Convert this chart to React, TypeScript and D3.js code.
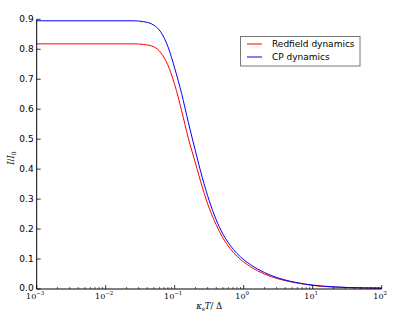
import React from 'react'
import * as d3 from 'd3'

// x positions (kappa_s T / Delta), shared by both curves
const xValues = [
  0.001, 0.0251, 0.0355, 0.0501, 0.0631, 0.0794, 0.1, 0.126, 0.158, 0.2, 0.251,
  0.316, 0.398, 0.501, 0.631, 0.794, 1, 1.26, 1.58, 2.51, 3.98, 6.31, 10, 17.8, 31.6, 100,
]

// I / I_0
const redfield = [
  0.818, 0.818, 0.816, 0.808, 0.788, 0.748, 0.682, 0.595, 0.502, 0.42, 0.34,
  0.27, 0.215, 0.17, 0.136, 0.11, 0.09, 0.074, 0.061, 0.041, 0.028, 0.019, 0.012, 0.007, 0.005, 0.003,
]
const cpDynamics = [
  0.895, 0.895, 0.892, 0.88, 0.857, 0.81, 0.737, 0.652, 0.555, 0.46, 0.372,
  0.295, 0.232, 0.183, 0.147, 0.119, 0.098, 0.081, 0.067, 0.045, 0.03, 0.02, 0.013, 0.008, 0.005, 0.003,
]

const seriesNames = ['Redfield dynamics', 'CP dynamics']
const seriesColors = ['#ff0000', '#0000ff']

const yTicks = [0, 0.1, 0.2, 0.3, 0.4, 0.5, 0.6, 0.7, 0.8, 0.9]
const xMajorExps = [-3, -2, -1, 0, 1, 2]

const W = 415
const H = 322
const margin = { left: 36.7, right: 33.3, top: 19.3, bottom: 33 }

const App = () => {
  const x = d3.scaleLog().domain([1e-3, 1e2]).range([margin.left, W - margin.right])
  const y = d3.scaleLinear().domain([0, 0.9]).range([H - margin.bottom, margin.top])

  const line = d3.line<number>()
    .x((_, i) => x(xValues[i]))
    .y((d) => y(d))
    .curve(d3.curveMonotoneX)

  const series = [redfield, cpDynamics]

  // minor log ticks 2..9 in every decade
  const minor: number[] = []
  for (let e = -3; e < 2; e++) {
    for (let k = 2; k <= 9; k++) minor.push(k * Math.pow(10, e))
  }

  const x0 = margin.left
  const x1 = W - margin.right
  const yb = H - margin.bottom
  const yt = margin.top
  const sans = 'DejaVu Sans, sans-serif'
  const serif = 'DejaVu Serif, serif'

  return (
    <div style={{ position: 'absolute', left: 0, top: 0 }}>
      <svg width={W} height={H} style={{ display: 'block', background: '#fff' }}>
        {/* curves */}
        {series.map((s, i) => (
          <path key={i} d={line(s) || ''} fill="none" stroke={seriesColors[i]} strokeWidth={1} />
        ))}

        {/* spines */}
        <line x1={x0} x2={x0} y1={yt} y2={yb} stroke="#000" strokeWidth={1} />
        <line x1={x0} x2={x1} y1={yb} y2={yb} stroke="#000" strokeWidth={1} />

        {/* y ticks */}
        {yTicks.map((t) => (
          <g key={t}>
            <line x1={x0} x2={x0 + 4} y1={y(t)} y2={y(t)} stroke="#000" strokeWidth={0.8} />
            <text x={x0 - 3} y={y(t) - (t === 0 ? 1 : 0)} dy="0.35em" textAnchor="end" fontFamily={sans} fontSize={9} fill="#000">
              {t.toFixed(1)}
            </text>
          </g>
        ))}

        {/* x minor ticks */}
        {minor.map((t) => (
          <line key={t} x1={x(t)} x2={x(t)} y1={yb} y2={yb - 2} stroke="#000" strokeWidth={0.6} />
        ))}

        {/* x major ticks */}
        {xMajorExps.map((e) => (
          <g key={e}>
            <line x1={x(Math.pow(10, e))} x2={x(Math.pow(10, e))} y1={yb} y2={yb - 4} stroke="#000" strokeWidth={0.8} />
            <text x={x(Math.pow(10, e)) - 1.5} y={yb + 9.5} textAnchor="middle" fontFamily={serif} fontSize={8} fill="#000">
              10
              <tspan fontSize={5.5} dy={-3.5}>{e < 0 ? '\u2212' + Math.abs(e) : e}</tspan>
            </text>
          </g>
        ))}

        {/* axis labels */}
        <text x={(x0 + x1) / 2} y={yb + 20} textAnchor="middle" fontFamily={serif} fontSize={8.5} fill="#000">
          <tspan fontStyle="italic">κ</tspan>
          <tspan fontSize={6} dy={2}>s</tspan>
          <tspan fontStyle="italic" dy={-2}>T</tspan>
          <tspan>/  Δ</tspan>
        </text>
        <text
          transform={`translate(14,${(yt + yb) / 2 + 4}) rotate(-90)`}
          textAnchor="middle"
          fontFamily={serif}
          fontSize={8.5}
          fill="#000"
        >
          <tspan fontStyle="italic">I</tspan>
          <tspan>/</tspan>
          <tspan fontStyle="italic">I</tspan>
          <tspan fontSize={6} dy={2}>0</tspan>
        </text>

        {/* legend */}
        <rect x={240.5} y={36.5} width={119.5} height={29.5} fill="#fff" stroke="#777" strokeWidth={1} />
        {seriesNames.map((n, i) => (
          <g key={n}>
            <line x1={247} x2={262} y1={44 + i * 13} y2={44 + i * 13} stroke={seriesColors[i]} strokeWidth={1} />
            <text x={272} y={44 + i * 13} dy="0.35em" fontFamily={sans} fontSize={9} fill="#000">
              {n}
            </text>
          </g>
        ))}
      </svg>
    </div>
  )
}

export default App
